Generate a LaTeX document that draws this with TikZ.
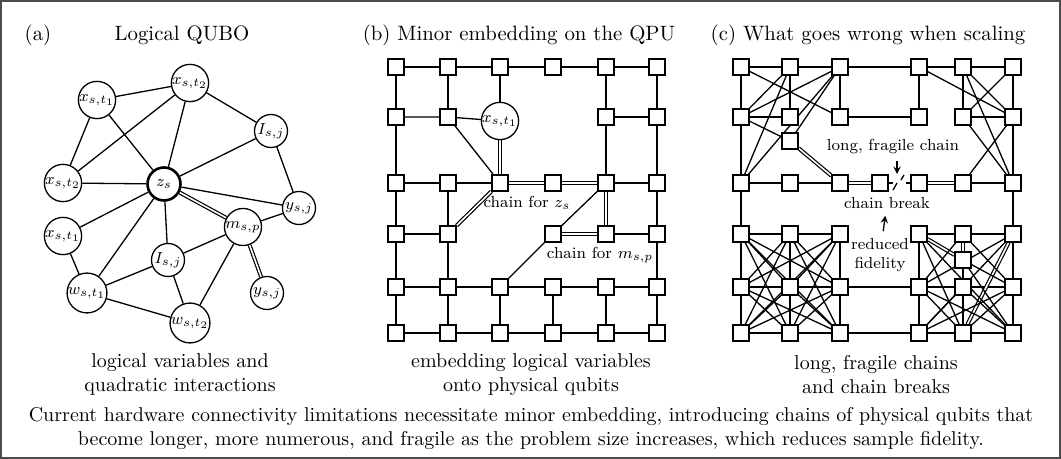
\documentclass[tikz,border=0pt]{standalone}
\usepackage{amsmath}
\usepackage{tikz}
\usetikzlibrary{arrows,backgrounds}
\tikzstyle{logic}=[circle,draw=black,line width=0.65pt,fill=white,
minimum size=16.5pt,inner sep=0pt,font=\footnotesize]
\tikzstyle{hub}=[logic,line width=1.3pt]
\tikzstyle{qubit}=[rectangle,draw=black,line width=0.75pt,fill=white,
minimum size=7.8pt,inner sep=0pt]
\tikzstyle{link}=[line width=0.65pt]
\tikzstyle{chain}=[double,double distance=0.8pt,line width=0.6pt]
\tikzstyle{arrow}=[line width=0.65pt,->,>=stealth]
\tikzstyle{title}=[font=\fontsize{10.4}{12}\selectfont]
\tikzstyle{note}=[font=\footnotesize,align=center]
\tikzstyle{caption}=[align=center]

\begin{document}
\begin{tikzpicture}[x=0.5pt,y=-0.5pt]
    \useasboundingbox (0,0) rectangle (1061,459);

    % titles
    \node (ta) [title] at (38,35) {(a)};
    \node (tqubo) [title] at (182,35) {Logical QUBO};
    \node (tb) [title] at (519,35) {(b) Minor embedding on the QPU};
    \node (tc) [title] at (868,35) {(c) What goes wrong when scaling};

    % (a) logical problem graph
    \node (xt2a) [logic] at (190,83) {$x_{s,t_2}$};
    \node (xt1a) [logic] at (97,100) {$x_{s,t_1}$};
    \node (Ia) [logic] at (271,131) {$I_{s,j}$};
    \node (xt2b) [logic] at (63,183) {$x_{s,t_2}$};
    \node (zs) [hub] at (164,184) {$z_s$};
    \node (ya) [logic] at (299,208) {$y_{s,j}$};
    \node (msp) [logic] at (243,227) {$m_{s,p}$};
    \node (xt1b) [logic] at (63,236) {$x_{s,t_1}$};
    \node (Ib) [logic] at (168,260) {$I_{s,j}$};
    \node (yb) [logic] at (267,293) {$y_{s,j}$};
    \node (wt1) [logic] at (87,293) {$w_{s,t_1}$};
    \node (wt2) [logic] at (190,323) {$w_{s,t_2}$};

    % (b) hardware grid
    \node (b00) [qubit] at (396,67) {};
    \node (b01) [qubit] at (448,67) {};
    \node (b02) [qubit] at (500,67) {};
    \node (b03) [qubit] at (553,67) {};
    \node (b04) [qubit] at (606,67) {};
    \node (b05) [qubit] at (657,67) {};
    \node (b10) [qubit] at (396,117) {};
    \node (b11) [qubit] at (448,117) {};
    \node (xb) [logic] at (500,121) {$x_{s,t_1}$};
    \node (b14) [qubit] at (606,117) {};
    \node (b15) [qubit] at (657,117) {};
    \node (b20) [qubit] at (396,183) {};
    \node (b21) [qubit] at (448,183) {};
    \node (b22) [qubit] at (500,183) {};
    \node (b23) [qubit] at (553,183) {};
    \node (b24) [qubit] at (606,183) {};
    \node (b25) [qubit] at (657,183) {};
    \node (b30) [qubit] at (396,234) {};
    \node (b31) [qubit] at (448,234) {};
    \node (b33) [qubit] at (553,234) {};
    \node (b34) [qubit] at (606,234) {};
    \node (b35) [qubit] at (657,234) {};
    \node (b40) [qubit] at (396,287) {};
    \node (b41) [qubit] at (448,287) {};
    \node (b42) [qubit] at (500,287) {};
    \node (b43) [qubit] at (553,287) {};
    \node (b44) [qubit] at (606,287) {};
    \node (b45) [qubit] at (657,287) {};
    \node (b50) [qubit] at (396,333) {};
    \node (b51) [qubit] at (448,333) {};
    \node (b52) [qubit] at (500,333) {};
    \node (b53) [qubit] at (553,333) {};
    \node (b54) [qubit] at (606,333) {};
    \node (b55) [qubit] at (657,333) {};
    \node (lzs) [note] at (527,203) {chain for $z_s$};
    \node (lmsp) [note] at (600,255) {chain for $m_{s,p}$};

    % (c) larger problem on the grid
    \node (c00) [qubit] at (741,67) {};
    \node (c01) [qubit] at (790,67) {};
    \node (c02) [qubit] at (840,67) {};
    \node (c04) [qubit] at (919,67) {};
    \node (c05) [qubit] at (963,67) {};
    \node (c06) [qubit] at (1013,67) {};
    \node (c10) [qubit] at (741,117) {};
    \node (c11) [qubit] at (790,117) {};
    \node (c12) [qubit] at (840,117) {};
    \node (c14) [qubit] at (919,117) {};
    \node (c15) [qubit] at (963,117) {};
    \node (c16) [qubit] at (1013,117) {};
    \node (cx1) [qubit] at (790,141) {};
    \node (c20) [qubit] at (741,183) {};
    \node (c21) [qubit] at (790,183) {};
    \node (c22) [qubit] at (840,183) {};
    \node (c23) [qubit] at (880,183) {};
    \node (c24) [qubit] at (919,183) {};
    \node (c25) [qubit] at (963,183) {};
    \node (c26) [qubit] at (1013,183) {};
    \node (c30) [qubit] at (741,234) {};
    \node (c31) [qubit] at (790,234) {};
    \node (c32) [qubit] at (840,234) {};
    \node (c34) [qubit] at (919,234) {};
    \node (c35) [qubit] at (963,234) {};
    \node (c36) [qubit] at (1013,234) {};
    \node (cx2) [qubit] at (963,260) {};
    \node (c40) [qubit] at (741,287) {};
    \node (c41) [qubit] at (790,287) {};
    \node (c42) [qubit] at (840,287) {};
    \node (c44) [qubit] at (919,287) {};
    \node (c45) [qubit] at (963,287) {};
    \node (c46) [qubit] at (1013,287) {};
    \node (c50) [qubit] at (741,333) {};
    \node (c51) [qubit] at (790,333) {};
    \node (c52) [qubit] at (840,333) {};
    \node (c54) [qubit] at (919,333) {};
    \node (c55) [qubit] at (963,333) {};
    \node (c56) [qubit] at (1013,333) {};
    \node (fragile) [note] at (893,147) {long, fragile chain};
    \node (cbreak) [note] at (887,203) {chain break};
    \node (fid) [note] at (880,255) {reduced\\fidelity};
    \coordinate (brk) at (897,174);

    % captions
    \node (capa) [caption] at (180,375) {logical variables and\\quadratic interactions};
    \node (capb) [caption] at (531,375) {embedding logical variables\\onto physical qubits};
    \node (capc) [caption] at (876,375) {long, fragile chains\\and chain breaks};
    \node (cap) [caption] at (531,429) {Current hardware connectivity limitations necessitate minor embedding, introducing chains of physical qubits that\\become longer, more numerous, and fragile as the problem size increases, which reduces sample fidelity.};

    \begin{scope}[on background layer]
        \draw [black!70,line width=1pt,fill=white] (1,1) rectangle (1060,458);

        \draw [link] (xt1a) -- (xt2a);
        \draw [link] (xt1a) -- (xt2b);
        \draw [link] (xt1a) -- (zs);
        \draw [link] (xt2a) -- (xt2b);
        \draw [link] (xt2a) -- (zs);
        \draw [link] (xt2a) -- (Ia);
        \draw [link] (Ia) -- (zs);
        \draw [link] (Ia) -- (ya);
        \draw [link] (xt2b) -- (zs);
        \draw [link] (zs) -- (ya);
        \draw [chain] (zs) -- (msp);
        \draw [link] (zs) -- (xt1b);
        \draw [link] (zs) -- (wt1);
        \draw [link] (zs) -- (Ib);
        \draw [link] (msp) -- (ya);
        \draw [link] (msp) -- (Ib);
        \draw [link] (msp) -- (wt2);
        \draw [chain] (msp) -- (yb);
        \draw [link] (xt1b) -- (wt1);
        \draw [link] (wt1) -- (Ib);
        \draw [link] (wt1) -- (wt2);
        \draw [link] (Ib) -- (wt2);

        \draw [link] (b00) -- (b01) -- (b02) -- (b03) -- (b04) -- (b05);
        \draw [link] (b10) -- (b11) -- (xb);
        \draw [link] (b14) -- (b15);
        \draw [link] (b20) -- (b21) -- (b22);
        \draw [link] (b24) -- (b25);
        \draw [link] (b30) -- (b31);
        \draw [link] (b34) -- (b35);
        \draw [link] (b40) -- (b41) -- (b42) -- (b43) -- (b44) -- (b45);
        \draw [link] (b50) -- (b51) -- (b52) -- (b53) -- (b54) -- (b55);
        \draw [link] (b00) -- (b10) -- (b20) -- (b30) -- (b40) -- (b50);
        \draw [link] (b01) -- (b11);
        \draw [link] (b21) -- (b31) -- (b41) -- (b51);
        \draw [link] (b02) -- (xb);
        \draw [link] (b42) -- (b52);
        \draw [link] (b43) -- (b53);
        \draw [link] (b04) -- (b14) -- (b24);
        \draw [link] (b44) -- (b54);
        \draw [link] (b05) -- (b15) -- (b25) -- (b35) -- (b45) -- (b55);
        \draw [link] (b11) -- (b22);
        \draw [link] (b24) -- (b33);
        \draw [link] (b33) -- (b42);
        \draw [chain] (xb) -- (b22);
        \draw [chain] (b22) -- (b31);
        \draw [chain] (b22) -- (b23) -- (b24);
        \draw [chain] (b24) -- (b34);
        \draw [chain] (b33) -- (b34);

        \draw [link] (c00) -- (c01) -- (c02) -- (c04) -- (c05) -- (c06);
        \draw [link] (c10) -- (c11);
        \draw [link] (c12) -- (c14);
        \draw [link] (c15) -- (c16);
        \draw [link] (c00) -- (c10) -- (c20) -- (c30) -- (c40) -- (c50);
        \draw [link] (c06) -- (c16) -- (c26) -- (c36) -- (c46) -- (c56);
        \draw [link] (c01) -- (c11);
        \draw [link] (c02) -- (c12);
        \draw [link] (c04) -- (c14);
        \draw [link] (c05) -- (c15);
        \draw [link] (c20) -- (c21) -- (c22);
        \draw [link] (c25) -- (c26);
        \draw [chain] (c22) -- (c23);
        \draw [chain] (c24) -- (c25);
        \draw [link] (c00) -- (c12);
        \draw [link] (c01) -- (c10);
        \draw [link] (c01) -- (c20);
        \draw [link] (c02) -- (c10);
        \draw [link] (c02) -- (c20);
        \draw [link] (c02) -- (cx1);
        \draw [link] (c10) -- (cx1);
        \draw [chain] (cx1) -- (c22);
        \draw [link] (c04) -- (c16);
        \draw [link] (c05) -- (c16);
        \draw [link] (c05) -- (c26);
        \draw [link] (c06) -- (c15);
        \draw [link] (c15) -- (c26);
        \draw [link] (c16) -- (c25);

        % broken chain
        \draw [link,densely dashed] (c23) -- (893,183);
        \draw [link] (893,190) -- (897,183);
        \draw [link] (901,180) -- (904,175);
        \draw [link,densely dashed] (906,183) -- (c24);
        \draw [arrow] (fragile.south -| brk) -- (brk);
        \draw [arrow] (fid) -- (cbreak);

        \draw [link] (c30) -- (c31) -- (c32);
        \draw [link] (c40) -- (c41) -- (c42) -- (c44) -- (c45) -- (c46);
        \draw [link] (c50) -- (c51) -- (c52) -- (c54) -- (c55) -- (c56);
        \draw [link] (c31) -- (c41) -- (c51);
        \draw [link] (c32) -- (c42) -- (c52);
        \draw [link] (c30) -- (c41);
        \draw [link] (c30) -- (c42);
        \draw [link] (c31) -- (c40);
        \draw [link] (c31) -- (c42);
        \draw [link] (c32) -- (c40);
        \draw [link] (c32) -- (c41);
        \draw [link] (c30) -- (c51);
        \draw [link] (c30) -- (c52);
        \draw [link] (c31) -- (c50);
        \draw [link] (c31) -- (c52);
        \draw [link] (c32) -- (c50);
        \draw [link] (c32) -- (c51);
        \draw [link] (c40) -- (c51);
        \draw [link] (c40) -- (c52);
        \draw [link] (c41) -- (c50);
        \draw [link] (c41) -- (c52);
        \draw [link] (c42) -- (c50);
        \draw [link] (c42) -- (c51);

        \draw [link] (c34) -- (c35) -- (c36);
        \draw [link] (c34) -- (c44) -- (c54);
        \draw [link] (cx2) -- (c45) -- (c55);
        \draw [chain] (c34) -- (cx2);
        \draw [chain] (c35) -- (cx2);
        \draw [chain] (c36) -- (c55);
        \draw [link] (c34) -- (c55);
        \draw [link] (c34) -- (c56);
        \draw [link] (c35) -- (c44);
        \draw [link] (c35) -- (c46);
        \draw [link] (c36) -- (c44);
        \draw [link] (c36) -- (c54);
        \draw [link] (cx2) -- (c46);
        \draw [link] (cx2) -- (c56);
        \draw [link] (c44) -- (c55);
        \draw [link] (c44) -- (c56);
        \draw [link] (c45) -- (c54);
        \draw [link] (c45) -- (c56);
        \draw [link] (c46) -- (c54);
        \draw [link] (c46) -- (c55);
    \end{scope}
\end{tikzpicture}
\end{document}
